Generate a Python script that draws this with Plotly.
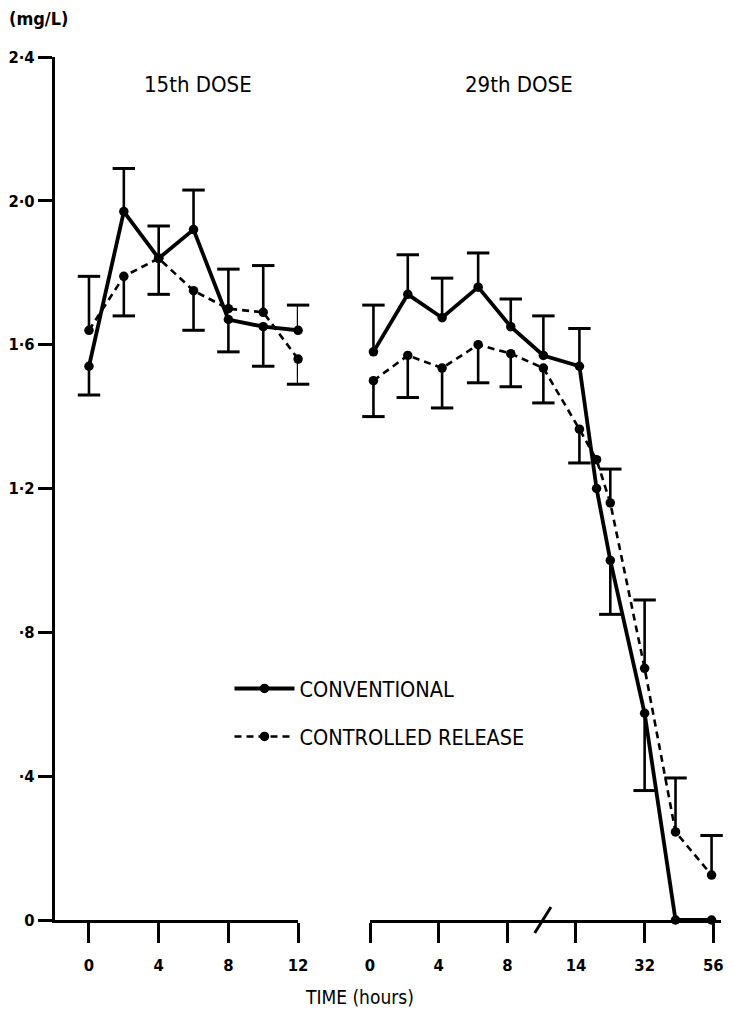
import plotly.graph_objects as go

# ---------------- data ----------------
# 15th dose: time (hours)
t15 = [0, 2, 4, 6, 8, 10, 12]
conv15 = [1.54, 1.97, 1.84, 1.92, 1.67, 1.65, 1.64]
conv15_up = [0, 0.12, 0.09, 0.11, 0, 0, 0.07]
conv15_dn = [0.08, 0, 0, 0, 0.09, 0.11, 0]
cr15 = [1.64, 1.79, 1.84, 1.75, 1.70, 1.69, 1.56]
cr15_up = [0.15, 0, 0, 0, 0.11, 0.13, 0]
cr15_dn = [0, 0.11, 0.10, 0.11, 0, 0, 0.07]

# 29th dose: position along the broken time axis
t29 = [0.2, 2.2, 4.2, 6.3, 8.2, 10.1, 12.2, 13.2, 14.0, 16.0, 17.8, 19.9]
conv29 = [1.58, 1.74, 1.675, 1.76, 1.65, 1.57, 1.54, 1.20, 1.00, 0.575, 0.0, 0.0]
conv29_up = [0.13, 0.11, 0.11, 0.095, 0.077, 0.11, 0.105, 0, 0, 0, 0, 0]
conv29_dn = [0, 0, 0, 0, 0, 0, 0, 0, 0.15, 0.215, 0, 0]
cr29 = [1.50, 1.57, 1.535, 1.60, 1.575, 1.535, 1.365, 1.28, 1.16, 0.70, 0.245, 0.125]
cr29_up = [0, 0, 0, 0, 0, 0, 0, 0, 0.094, 0.19, 0.15, 0.11]
cr29_dn = [0.10, 0.117, 0.111, 0.106, 0.092, 0.097, 0.094, 0, 0, 0, 0, 0]

t15_ticks = [0, 4, 8, 12]
t15_ticklabels = ["0", "4", "8", "12"]
t29_ticks = [0, 4, 8, 12, 16, 20]
t29_ticklabels = ["0", "4", "8", "14", "32", "56"]
y_ticks = [0, 0.4, 0.8, 1.2, 1.6, 2.0, 2.4]
y_ticklabels = ["0", "·4", "·8", "1·2", "1·6", "2·0", "2·4"]

series_names = ["CONVENTIONAL", "CONTROLLED RELEASE"]

# ---------------- figure ----------------
FONT = "DejaVu Sans Condensed, Liberation Sans Narrow, DejaVu Sans, sans-serif"
INK = "black"

fig = go.Figure()


def caps(y, up, dn):
    top = [v + u if u > 0 else None for v, u in zip(y, up)]
    bot = [v - d if d > 0 else None for v, d in zip(y, dn)]
    return top, bot


def add_series(x, y, up, dn, name, dashed, xa, show):
    line = dict(color=INK, width=2.6, dash="7px,5px") if dashed else dict(color=INK, width=3.8)
    fig.add_trace(go.Scatter(
        x=x, y=y, mode="lines+markers", name=name, legendgroup=name,
        showlegend=show, xaxis=xa, yaxis="y", cliponaxis=False,
        line=line, marker=dict(color=INK, size=9.5),
        error_y=dict(type="data", symmetric=False, array=up, arrayminus=dn,
                     width=0, thickness=2.6, color=INK),
    ))
    top, bot = caps(y, up, dn)
    fig.add_trace(go.Scatter(
        x=list(x) + list(x), y=top + bot, mode="markers", showlegend=False,
        legendgroup=name, xaxis=xa, yaxis="y", cliponaxis=False, hoverinfo="skip",
        marker=dict(symbol="line-ew", size=16, color=INK, line=dict(color=INK, width=3)),
    ))


add_series(t15, conv15, conv15_up, conv15_dn, series_names[0], False, "x", True)
add_series(t15, cr15, cr15_up, cr15_dn, series_names[1], True, "x", True)
add_series(t29, conv29, conv29_up, conv29_dn, series_names[0], False, "x2", False)
add_series(t29, cr29, cr29_up, cr29_dn, series_names[1], True, "x2", False)

axis_common = dict(showline=True, linecolor=INK, linewidth=3, ticks="outside",
                   tickcolor=INK, tickwidth=2.5, showgrid=False, zeroline=False,
                   automargin=False)
xfont = dict(family=FONT, size=16.5, color=INK, weight="bold")
yfont = dict(family=FONT, size=16.5, color=INK, weight="bold")

fig.update_layout(
    width=718, height=1000,
    margin=dict(l=47, r=5, t=49, b=88),
    paper_bgcolor="white", plot_bgcolor="white",
    font=dict(family=FONT, color=INK),
    xaxis=dict(domain=[0, 0.365], range=[-1.95, 12], tickvals=t15_ticks,
               ticktext=t15_ticklabels, ticklen=20, ticklabelstandoff=8,
               anchor="y", tickfont=xfont, **axis_common),
    xaxis2=dict(domain=[0.473, 1.0], range=[0, 20.45], tickvals=t29_ticks,
                ticktext=t29_ticklabels, ticklen=20, ticklabelstandoff=8,
                ticklabeloverflow="allow",
                anchor="y", tickfont=xfont, **axis_common),
    yaxis=dict(range=[0, 2.4], tickvals=y_ticks, ticktext=y_ticklabels,
               ticklen=14, anchor="x", tickfont=yfont, **axis_common),
    legend=dict(x=0.262, y=0.292, xanchor="left", yanchor="top",
                font=dict(family=FONT, size=21.5, color=INK),
                bgcolor="rgba(0,0,0,0)", tracegroupgap=17, itemwidth=60),
    showlegend=True,
)

# axis break mark on the 29th-dose time axis
fig.add_shape(type="line", xref="paper", yref="paper", x0=0.7203, x1=0.7447,
              y0=-0.015, y1=0.015, line=dict(color=INK, width=3))

annos = [
    dict(text="15th DOSE", x=0.214, y=0.9676, size=22),
    dict(text="29th DOSE", x=0.697, y=0.9676, size=22),
    dict(text="TIME (hours)", x=0.457, y=-0.089, size=19),
]
for a in annos:
    fig.add_annotation(text=a["text"], xref="paper", yref="paper", x=a["x"], y=a["y"],
                       showarrow=False, xanchor="center", yanchor="middle",
                       font=dict(family=FONT, size=a["size"], color=INK))
fig.add_annotation(text="<b>(mg/L)</b>", xref="paper", yref="paper", x=-0.072, y=1.045,
                   showarrow=False, xanchor="left", yanchor="middle",
                   font=dict(family=FONT, size=18, color=INK))

fig.write_html("out.html")
